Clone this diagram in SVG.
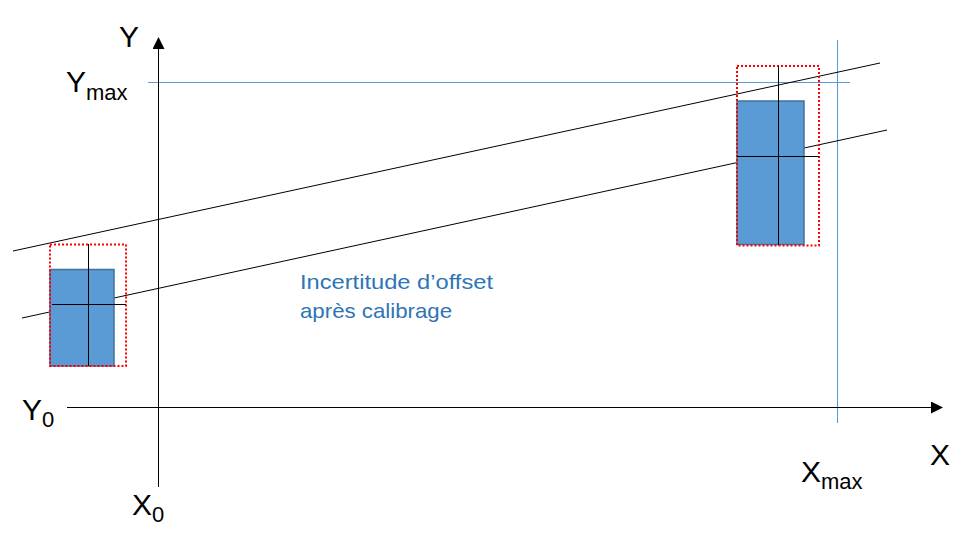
<svg xmlns="http://www.w3.org/2000/svg" width="974" height="548" viewBox="0 0 974 548">
<defs>
<marker id="arr" markerWidth="12" markerHeight="12" refX="11" refY="6" orient="auto" markerUnits="userSpaceOnUse">
<path d="M0,0 L12,6 L0,12 Z" fill="#000"/>
</marker>
<style>
.lbl{font-family:"Liberation Sans",Arial,sans-serif;fill:#000;}
.big{font-size:30px;}
.sub{font-size:22px;}
.note{font-family:"Liberation Sans",Arial,sans-serif;font-size:21px;fill:#2E75B6;}
.bar{fill:#5B9BD5;stroke:#41719C;stroke-width:1.5;}
.unc{fill:none;stroke:#FF0000;stroke-width:2;stroke-dasharray:2 2;}
.thin{stroke:#000;stroke-width:1;fill:none;}
.ref{stroke:#5B9BD5;stroke-width:1;fill:none;}
</style>
</defs>
<rect width="974" height="548" fill="#fff"/>
<g id="connectors">
<line class="ref" x1="148" y1="82.5" x2="850" y2="82.5"/>
<line class="ref" x1="837.5" y1="40" x2="837.5" y2="423"/>
<line class="thin" x1="158.5" y1="487" x2="158.5" y2="38" marker-end="url(#arr)"/>
<line class="thin" x1="67" y1="407.5" x2="942" y2="407.5" marker-end="url(#arr)"/>
<line class="thin" x1="13" y1="251" x2="880" y2="63"/>
<line class="thin" x1="22" y1="318" x2="887" y2="130"/>
</g>
<g id="left-box">
<rect class="bar" x="50" y="269.5" width="64" height="96.5"/>
<rect class="unc" x="50" y="244.5" width="76" height="121.5"/>
<line class="thin" x1="88.5" y1="244" x2="88.5" y2="366"/>
<line class="thin" x1="52" y1="304.5" x2="126" y2="304.5"/>
</g>
<g id="right-box">
<rect class="bar" x="737" y="101" width="67" height="143.5"/>
<rect class="unc" x="737" y="66" width="82" height="179.5"/>
<line class="thin" x1="778.5" y1="66" x2="778.5" y2="245"/>
<line class="thin" x1="737" y1="156.5" x2="819" y2="156.5"/>
</g>
<g id="labels">
<text class="lbl big" x="119" y="47">Y</text>
<text class="lbl big" x="66" y="92">Y<tspan class="sub" dy="8">max</tspan></text>
<text class="lbl big" x="22" y="420">Y<tspan class="sub" dy="7">0</tspan></text>
<text class="lbl big" x="132" y="515">X<tspan class="sub" dy="7">0</tspan></text>
<text class="lbl big" x="801" y="482">X<tspan class="sub" dy="7">max</tspan></text>
<text class="lbl big" x="930" y="465">X</text>
</g>
<g id="note">
<text class="note" x="300" y="289" textLength="193" lengthAdjust="spacingAndGlyphs">Incertitude d’offset</text>
<text class="note" x="300" y="318" textLength="152" lengthAdjust="spacingAndGlyphs">après calibrage</text>
</g>
</svg>
